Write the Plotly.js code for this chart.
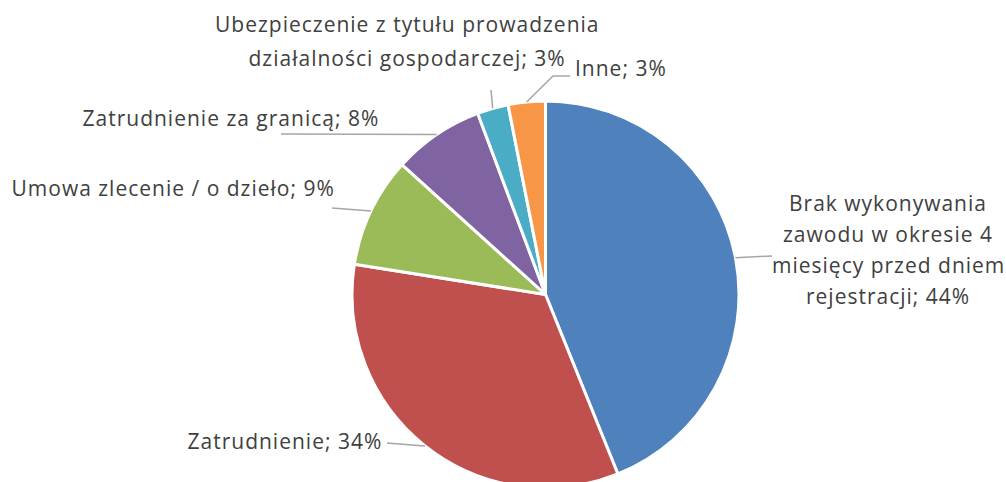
<!DOCTYPE html>
<html>
<head>
<meta charset="utf-8">
<script src="https://cdn.plot.ly/plotly-3.0.1.min.js"></script>
<style>
html, body { margin: 0; padding: 0; overflow: hidden; background: #fff; }
#chart { width: 1006px; height: 488px; }
#chart .annotation-text { letter-spacing: 1px; }
</style>
</head>
<body>
<div id="chart"></div>
<script>
// ---- data ----
const categories = [
  "Brak wykonywania zawodu w okresie 4 miesięcy przed dniem rejestracji",
  "Zatrudnienie",
  "Umowa zlecenie / o dzieło",
  "Zatrudnienie za granicą",
  "Ubezpieczenie z tytułu prowadzenia działalności gospodarczej",
  "Inne"
];
const labelLines = [
  ["Brak wykonywania", "zawodu w okresie 4", "miesięcy przed dniem", "rejestracji"],
  ["Zatrudnienie"],
  ["Umowa zlecenie / o dzieło"],
  ["Zatrudnienie za granicą"],
  ["Ubezpieczenie z tytułu prowadzenia", "działalności gospodarczej"],
  ["Inne"]
];
const values = [43.9, 33.6, 9.2, 7.6, 2.6, 3.1];
const colors = ["#4F81BD", "#C0504D", "#9BBB59", "#8064A2", "#4BACC6", "#F79646"];

// ---- layout geometry ----
const W = 1006, H = 488;
const pieLeft = 352, pieTop = 101, pieSize = 387;
const cx = pieLeft + pieSize / 2, cy = pieTop + pieSize / 2, R = pieSize / 2;
const px = x => x / W;
const py = y => (H - y) / H;

// label placement (pixel): text centre x, first line centre y, line step, leader end
const labelPos = [
  {x: 888, y: 203, step: 31, lead: [[772, 256]]},
  {x: 285, y: 441, step: 0, lead: [[387, 443]]},
  {x: 173, y: 188, step: 0, lead: [[332, 208]]},
  {x: 231, y: 118, step: 0, lead: [[281, 134]]},
  {x: 407, y: 24, step: 34, lead: [[491, 90]]},
  {x: 621, y: 68, step: 0, lead: [[553, 76], [570, 76]]}
];

const total = values.reduce((a, b) => a + b, 0);
let cum = 0;
const annotations = [], shapes = [];
values.forEach((v, i) => {
  const mid = (cum + v / 2) / total * 2 * Math.PI;
  cum += v;
  const ax = cx + R * Math.sin(mid), ay = cy - R * Math.cos(mid);
  const pct = Math.round(v / total * 100);
  const lines = labelLines[i].slice();
  lines[lines.length - 1] += "; " + pct + "%";
  const lp = labelPos[i];
  lines.forEach((t, k) => {
    annotations.push({
      xref: "paper", yref: "paper", x: px(lp.x), y: py(lp.y + k * lp.step),
      xanchor: "center", yanchor: "middle", showarrow: false,
      text: t, align: "center",
      font: {family: "'Open Sans', Lato, sans-serif", size: 21, color: "#404040"}
    });
  });
  let path = "M" + px(ax) + "," + py(ay);
  lp.lead.forEach(p => { path += " L" + px(p[0]) + "," + py(p[1]); });
  shapes.push({type: "path", xref: "paper", yref: "paper", path: path,
    line: {color: "#A6A6A6", width: 1.5}});
});

const trace = {
  type: "pie",
  labels: categories,
  values: values,
  sort: false,
  direction: "clockwise",
  rotation: 0,
  textinfo: "none",
  hoverinfo: "label+percent",
  marker: {colors: colors, line: {color: "#ffffff", width: 3}},
  domain: {x: [px(pieLeft), px(pieLeft + pieSize)], y: [py(pieTop + pieSize), py(pieTop)]},
  showlegend: false
};

Plotly.newPlot("chart", [trace], {
  width: W, height: H,
  margin: {l: 0, r: 0, t: 0, b: 0},
  paper_bgcolor: "#ffffff",
  showlegend: false,
  annotations: annotations,
  shapes: shapes
}, {displayModeBar: false, staticPlot: true});
</script>
</body>
</html>
